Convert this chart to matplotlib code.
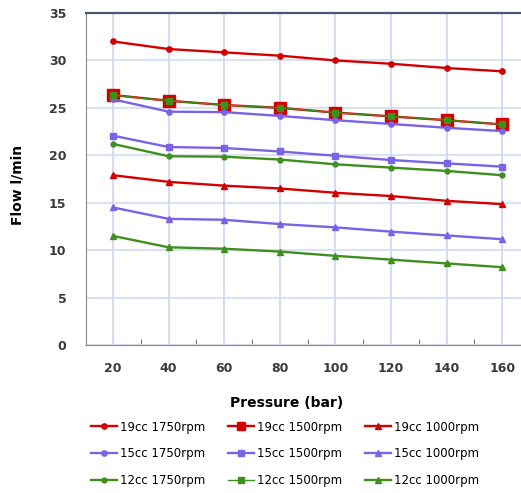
import matplotlib
matplotlib.use("Agg")
import matplotlib.pyplot as plt
from matplotlib.lines import Line2D

pressure = [20, 40, 60, 80, 100, 120, 140, 160]

cc19_1750 = [32.0, 31.2, 30.85, 30.5, 30.0, 29.65, 29.2, 28.85]
cc19_1500 = [26.35, 25.75, 25.3, 25.0, 24.5, 24.1, 23.7, 23.25]
cc19_1000 = [17.9, 17.2, 16.8, 16.5, 16.05, 15.7, 15.2, 14.85]
cc15_1750 = [25.9, 24.6, 24.55, 24.15, 23.7, 23.3, 22.9, 22.55]
cc15_1500 = [22.07, 20.87, 20.77, 20.4, 19.95, 19.5, 19.15, 18.8]
cc15_1000 = [14.5, 13.3, 13.2, 12.75, 12.4, 11.95, 11.55, 11.15]
cc12_1750 = [21.2, 19.9, 19.85, 19.55, 19.05, 18.7, 18.35, 17.9]
cc12_1500 = [26.35, 25.75, 25.3, 25.0, 24.5, 24.1, 23.7, 23.25]
cc12_1000 = [11.5, 10.3, 10.15, 9.85, 9.4, 9.0, 8.6, 8.2]

labels = ["19cc 1750rpm", "19cc 1500rpm", "19cc 1000rpm",
          "15cc 1750rpm", "15cc 1500rpm", "15cc 1000rpm",
          "12cc 1750rpm", "12cc 1500rpm", "12cc 1000rpm"]

RED = "#d40000"
PURPLE = "#7b63e6"
GREEN = "#3f8f1f"

W, H = 521, 493
fig = plt.figure(figsize=(W / 100, H / 100), dpi=100)
x0, x1 = 86, 530
y0, y1 = 345, 13
ax = fig.add_axes([x0 / W, 1 - y0 / H, (x1 - x0) / W, (y0 - y1) / H])

series = [
    (cc19_1750, RED, "o", 3.8, 1.7),
    (cc19_1500, RED, "s", 8, 1.7),
    (cc19_1000, RED, "^", 4, 1.7),
    (cc15_1750, PURPLE, "o", 3.8, 1.7),
    (cc15_1500, PURPLE, "s", 4.5, 1.7),
    (cc15_1000, PURPLE, "^", 4, 1.7),
    (cc12_1750, GREEN, "o", 3.5, 1.7),
    (cc12_1500, GREEN, "s", 5, 1.0),
    (cc12_1000, GREEN, "^", 4, 1.7),
]
handles = []
for (vals, c, m, ms, lw), lab in zip(series, labels):
    ax.plot(pressure, vals, color=c, marker=m, markersize=ms, linewidth=lw,
            zorder=3)
    handles.append(Line2D([0], [0], color=c, marker=m,
                          markersize=min(ms, 6), linewidth=lw, label=lab))

ax.set_xlim(10.3, 170)
ax.set_ylim(0, 35)
ax.set_xticks(pressure)
ax.set_xticks([30, 50, 70, 90, 110, 130, 150], minor=True)
ax.set_yticks(range(0, 36, 5))
ax.grid(True, which="major", axis="x", color="#c9d6f5", linewidth=1.2, zorder=0)
ax.grid(True, which="major", axis="y", color="#d3dcef", linewidth=1.2, zorder=0)
ax.tick_params(axis="x", which="major", length=0, pad=12, labelsize=9,
               labelcolor="#3a3a3a")
ax.tick_params(axis="x", which="minor", length=4, direction="in",
               color="#555555")
ax.tick_params(axis="y", length=0, pad=14, labelsize=9, labelcolor="#3a3a3a")
for lbl in ax.get_xticklabels() + ax.get_yticklabels():
    lbl.set_fontweight("bold")

ax.spines["left"].set_color("#888888")
ax.spines["bottom"].set_color("#888888")
ax.spines["top"].set_color("#4a5570")
ax.spines["top"].set_linewidth(1.6)
ax.spines["right"].set_visible(False)

fig.text(18 / W, 1 - 185 / H, "Flow l/min", rotation=90, ha="center",
         va="center", fontsize=10, fontweight="bold")
fig.text(287 / W, 1 - 403 / H, "Pressure (bar)", ha="center", va="center",
         fontsize=10, fontweight="bold")

order = [0, 3, 6, 1, 4, 7, 2, 5, 8]
leg = fig.legend(handles=[handles[i] for i in order], loc="upper left",
                 bbox_to_anchor=(80 / W, 1 - 410 / H), ncol=3, frameon=False,
                 fontsize=8.5, handlelength=2.2, handletextpad=0.3,
                 columnspacing=1.9, labelspacing=1.15)

fig.savefig("out.png", dpi=100)
